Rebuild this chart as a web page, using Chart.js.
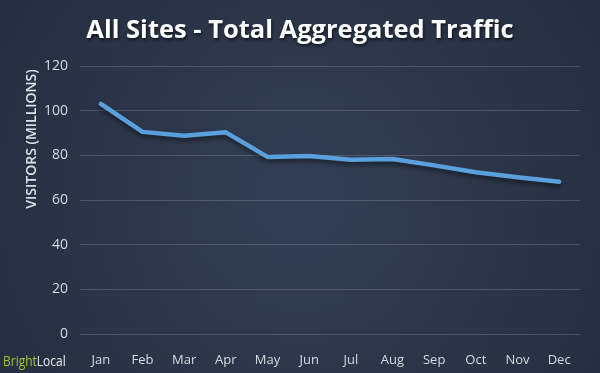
<!DOCTYPE html>
<html>
<head>
<meta charset="utf-8">
<script src="https://cdn.jsdelivr.net/npm/chart.js@4"></script>
<style>
  html, body { margin: 0; padding: 0; background: #263144; }
  #wrap { width: 600px; height: 373px; }
</style>
</head>
<body>
<div id="wrap"><canvas id="trafficChart" width="600" height="373"></canvas></div>
<script>
// data
var months = ['Jan', 'Feb', 'Mar', 'Apr', 'May', 'Jun', 'Jul', 'Aug', 'Sep', 'Oct', 'Nov', 'Dec'];
var visitors = [103, 90.5, 88.8, 90.3, 79.3, 79.7, 78, 78.4, 75.5, 72.4, 70.2, 68.2];
var yTicks = [0, 20, 40, 60, 80, 100, 120];
var chartTitle = 'All Sites - Total Aggregated Traffic';
var yTitle = 'VISITORS (MILLIONS)';

// dark navy background, title, y title, logo
var decor = {
    id: 'decor',
    beforeDraw: function (chart) {
        var c = chart.ctx;
        var g = c.createRadialGradient(300, 200, 20, 300, 200, 420);
        g.addColorStop(0, '#323e53');
        g.addColorStop(1, '#222b3c');
        c.save();
        c.fillStyle = g;
        c.fillRect(0, 0, chart.width, chart.height);
        c.restore();
    },
    afterDraw: function (chart) {
        var c = chart.ctx;

        // chart title with a small drop shadow
        c.save();
        c.font = 'bold 25.5px "Open Sans"';
        c.fillStyle = '#ffffff';
        c.textAlign = 'center';
        c.textBaseline = 'middle';
        c.shadowColor = 'rgba(0, 0, 0, 0.6)';
        c.shadowBlur = 3;
        c.shadowOffsetX = 1;
        c.shadowOffsetY = 2;
        c.fillText(chartTitle, 300, 31);
        c.restore();

        // y axis title
        c.save();
        c.translate(32, 139);
        c.rotate(-Math.PI / 2);
        c.fillStyle = '#dde2ea';
        c.font = '600 14px "Open Sans"';
        c.textAlign = 'center';
        c.textBaseline = 'middle';
        c.fillText(yTitle, 0, 0);
        c.restore();

        // logo, squeezed a bit to look condensed
        c.save();
        c.translate(3, 366);
        c.scale(0.8, 1);
        c.font = '15px "Open Sans"';
        c.textBaseline = 'alphabetic';
        c.fillStyle = '#9dc53b';
        c.fillText('Bright', 0, 0);
        var w = c.measureText('Bright').width;
        c.fillStyle = '#e8ecf0';
        c.fillText('Local', w, 0);
        c.restore();
    }
};

// soft shadow under the line
var lineShadow = {
    id: 'lineShadow',
    beforeDatasetDraw: function (chart) {
        var c = chart.ctx;
        c.save();
        c.shadowColor = 'rgba(0, 0, 0, 0.45)';
        c.shadowBlur = 4;
        c.shadowOffsetY = 3;
    },
    afterDatasetDraw: function (chart) {
        chart.ctx.restore();
    }
};

var ctx = document.getElementById('trafficChart').getContext('2d');
var trafficChart = new Chart(ctx, {
    type: 'line',
    data: {
        labels: months,
        datasets: [{
            label: 'Visitors (millions)',
            data: visitors,
            borderColor: '#5aa0dc',
            borderWidth: 4.5,
            borderCapStyle: 'round',
            borderJoinStyle: 'round',
            pointRadius: 0,
            tension: 0,
            fill: false
        }]
    },
    options: {
        responsive: false,
        animation: false,
        layout: { padding: { left: 0, right: 20, top: 66, bottom: 0 } },
        plugins: {
            legend: { display: false },
            tooltip: { enabled: false },
            title: { display: false }
        },
        scales: {
            x: {
                offset: true,
                grid: { display: false },
                border: { display: false },
                ticks: {
                    color: '#d5dae2',
                    font: { family: '"Open Sans"', size: 13 },
                    padding: 10,
                    maxRotation: 0
                },
                afterFit: function (scale) { scale.height = 39; }
            },
            y: {
                min: 0,
                max: 120,
                afterBuildTicks: function (scale) {
                    scale.ticks = yTicks.map(function (v) { return { value: v }; });
                },
                grid: { color: 'rgba(255, 255, 255, 0.17)', lineWidth: 1, drawTicks: false },
                border: { display: false },
                ticks: {
                    color: '#d5dae2',
                    font: { family: '"Open Sans"', size: 14 },
                    padding: 12
                },
                afterFit: function (scale) { scale.width = 80; }
            }
        }
    },
    plugins: [decor, lineShadow]
});
</script>
</body>
</html>
